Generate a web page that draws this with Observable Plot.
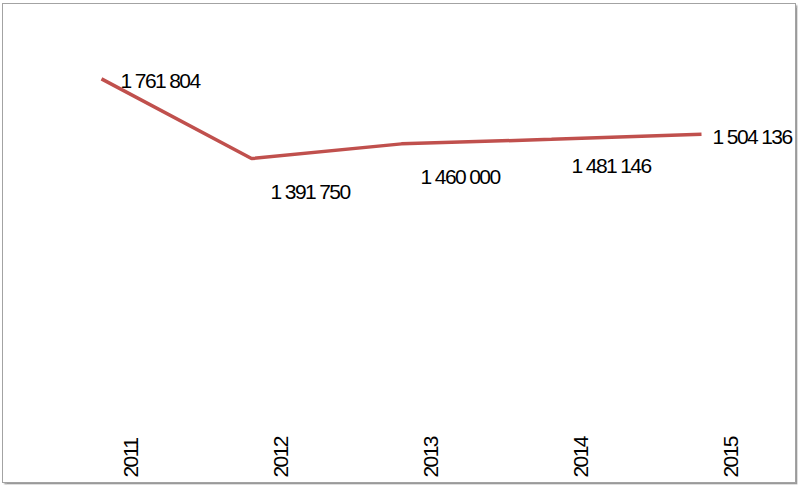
<!DOCTYPE html>
<html>
<head>
<meta charset="utf-8">
<script src="https://cdn.jsdelivr.net/npm/d3@7"></script>
<script src="https://cdn.jsdelivr.net/npm/@observablehq/plot@0.6"></script>
<style>
  html, body { margin: 0; padding: 0; background: #fff; }
  #wrap { position: relative; width: 798px; height: 485px; overflow: hidden; }
  #border { position: absolute; left: 2px; top: 3px; width: 792px; height: 478px;
    border: 1.5px solid #a3a3a3; box-shadow: 1.5px 1.5px 1.5px #9a9a9a; pointer-events: none; }
</style>
</head>
<body>
<div id="wrap"><div id="border"></div></div>
<script>
const years = [2011, 2012, 2013, 2014, 2015];
const values = [1761804, 1391750, 1460000, 1481146, 1504136];

const data = years.map((y, i) => ({year: y, value: values[i]}));
const fmt = d3.formatLocale({thousands: " ", grouping: [3], decimal: ","}).format(",d");
const font = "'Liberation Sans', Arial, sans-serif";
const last = years.length - 1;
const fs = 21;

const chart = Plot.plot({
  width: 798,
  height: 485,
  marginLeft: 100,
  marginRight: 97,
  marginTop: 27,
  marginBottom: 27,
  style: {fontFamily: font, fontSize: fs + "px", color: "#000", background: "transparent", letterSpacing: "-1.6px"},
  x: {type: "point", domain: years, padding: 0, axis: null},
  y: {domain: [0, 2000000], axis: null},
  marks: [
    Plot.line(data, {x: "year", y: "value", stroke: "#c0504d", strokeWidth: 3.5, strokeLinejoin: "miter", strokeLinecap: "butt"}),
    Plot.text(data, {filter: (d, i) => i === 0, x: "year", y: "value", text: d => fmt(d.value), textAnchor: "start", dx: 19, dy: 2, fill: "#000", fontSize: fs}),
    Plot.text(data, {filter: (d, i) => i === 1 || i === 2, x: "year", y: "value", text: d => fmt(d.value), textAnchor: "start", dx: 19, dy: 33.5, fill: "#000", fontSize: fs}),
    Plot.text(data, {filter: (d, i) => i === 3, x: "year", y: "value", text: d => fmt(d.value), textAnchor: "start", dx: 20, dy: 27, fill: "#000", fontSize: fs}),
    Plot.text(data, {filter: (d, i) => i === last, x: "year", y: "value", text: d => fmt(d.value), textAnchor: "start", dx: 11, dy: 3, fill: "#000", fontSize: fs}),
    Plot.text(years, {x: d => d, frameAnchor: "bottom", text: d => String(d), rotate: -90, textAnchor: "start", dx: 36, dy: 19, fill: "#000", fontSize: fs})
  ]
});
document.getElementById("wrap").prepend(chart);
</script>
</body>
</html>
